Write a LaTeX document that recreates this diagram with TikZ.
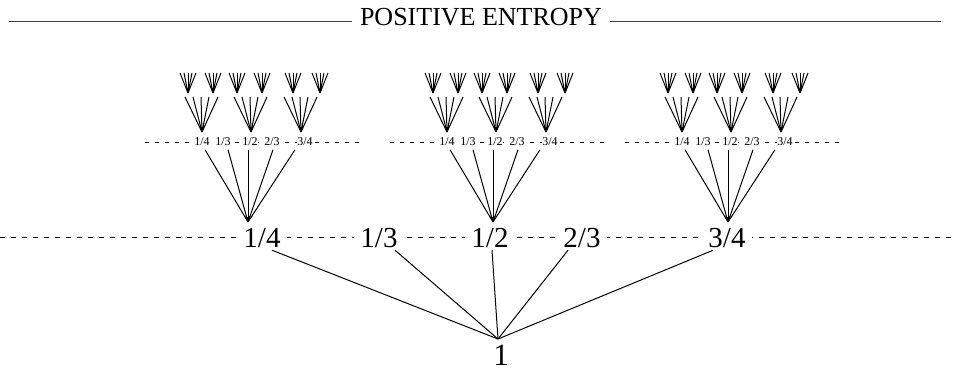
\documentclass[tikz,border=0pt]{standalone}
\usepackage{fontspec}
\setmainfont{Liberation Serif}
\usetikzlibrary{arrows.meta,calc}
\begin{document}
\begin{tikzpicture}[x=0.5pt,y=-0.5pt,line width=0.5pt,
  titlefont/.style={font=\fontsize{13}{13}\selectfont, fill=white, inner sep=0pt, inner xsep=4pt},
  big/.style={font=\fontsize{14.5}{14.5}\selectfont, fill=white, inner sep=1pt, inner xsep=3pt},
  small/.style={font=\fontsize{6}{6}\selectfont, fill=white, inner sep=0.6pt, inner xsep=0.1pt},
  bigdash/.style={dash pattern=on 2.5pt off 3pt},
  smalldash/.style={dash pattern=on 2.2pt off 2.8pt},
  tip/.style={-{Stealth[length=3.2pt,width=2.8pt]}},
  rule/.style={line width=0.4pt, black!75}
]
\useasboundingbox (0,0) rectangle (957,371);
% title
\coordinate (tl) at (9,21);
\coordinate (tr) at (941,21);
\draw[rule] (tl) -- (tr);
\node[titlefont] (title) at (481,17) {POSITIVE ENTROPY};
% main dashed line and labels
\coordinate (ml) at (0,237);
\coordinate (mr) at (957,237);
\draw[bigdash] (ml) -- (mr);
\node[big] (b14) at (262,238) {1/4};
\node[big] (b13) at (379,238) {1/3};
\node[big] (b12) at (490,238) {1/2};
\node[big] (b23) at (582,238) {2/3};
\node[big] (b34) at (727,238) {3/4};
\coordinate (v) at (498,339);
\node[font=\fontsize{15.5}{15.5}\selectfont, inner sep=0pt] (one) at (501,355) {1};
\draw ($(b14.south)+(10,0)$) -- (v);
\draw ($(b13.south)+(16,0)$) -- (v);
\draw ($(b12.south)+(2,0)$) -- (v);
\draw ($(b23.south)+(-14,0)$) -- (v);
\draw ($(b34.south)+(-14,0)$) -- (v);
% clusters
\foreach \c/\n in {248/A,493/B,728/C}{
  \coordinate (a\n) at (\c,222);
  \draw[smalldash] (\c-103,142) -- (\c+112,142);
  \node[small] (s\n1) at (\c-46,142) {1/4};
  \node[small] (s\n2) at (\c-25,142) {1/3};
  \node[small] (s\n3) at (\c+2,142) {1/2};
  \node[small] (s\n4) at (\c+24,142) {2/3};
  \node[small] (s\n5) at (\c+57,142) {3/4};
  \draw ($(s\n1.south)+(3,2)$) -- (a\n);
  \draw ($(s\n2.south)+(5,2)$) -- (a\n);
  \draw[tip] ($(s\n3.south)+(-2,2)$) -- (a\n);
  \draw ($(s\n4.south)+(1,2)$) -- (a\n);
  \draw ($(s\n5.south)+(-10,2)$) -- (a\n);
  \foreach \m/\k/\p/\q in {-46/1/-14/11, 3/2/-14/11, 53/3/-8/19}{
    \coordinate (f\n\k) at (\c+\m,132);
    \foreach \d in {-17,-9,7,16}
      \draw ($(f\n\k)+(\d,-35)$) -- (f\n\k);
    \draw[tip] ($(f\n\k)+(-1,-35)$) -- (f\n\k);
    \coordinate (g\n\k a) at (\c+\m+\p,93);
    \coordinate (g\n\k b) at (\c+\m+\q,93);
    \foreach \g in {g\n\k a,g\n\k b}{
      \foreach \d in {-8,-4,4,8}
        \draw ($(\g)+(\d,-20)$) -- (\g);
      \draw[tip] ($(\g)+(0,-20)$) -- (\g);
    }
  }
}
\end{tikzpicture}
\end{document}
